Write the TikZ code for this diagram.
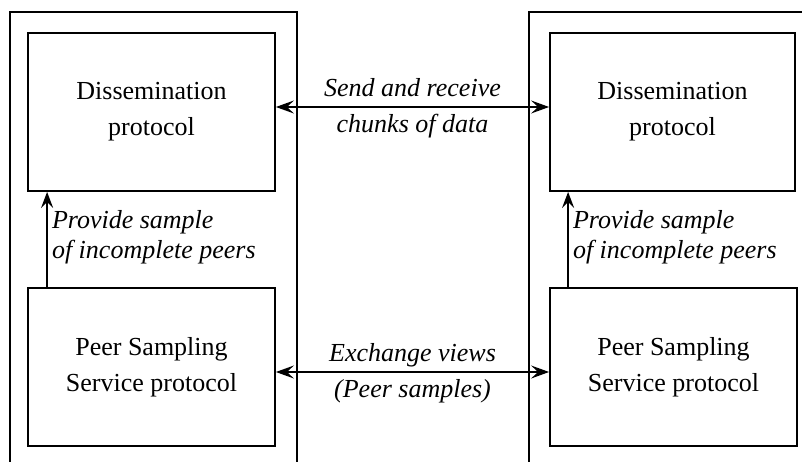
\documentclass[tikz,border=0pt]{standalone}
\usepackage{fontspec}
\setmainfont{Liberation Serif}
\usetikzlibrary{arrows.meta}
\tikzset{
	proto/.style={draw, align=center, inner sep=0pt, font=\fontsize{26}{36}\selectfont},
	msg/.style={inner sep=5pt, text height=20pt, text depth=5pt, font=\fontsize{26}{30}\selectfont\itshape}
}
\begin{document}
\begin{tikzpicture}[x=1pt, y=-1pt, line width=1.8pt, >={Stealth[length=18pt, width=13pt, inset=7pt]}]
%		\draw[help lines] (0,0) grid (802,462);
		\useasboundingbox (0,0) rectangle (802,462);
		\clip (0,0) rectangle (802,462);
		\draw (10,500) rectangle (297,12);
		\draw (529,500) rectangle (840,12);
		\node[proto, minimum width=247, minimum height=158] (ldiss) at (151.5,112) {Dissemination\\protocol};
		\node[proto, minimum width=247, minimum height=158] (lpss) at (151.5,367) {Peer Sampling\\Service protocol};
		\node[proto, minimum width=245, minimum height=158] (rdiss) at (672.5,112) {Dissemination\\protocol};
		\node[proto, minimum width=247, minimum height=158] (rpss) at (673.5,367) {Peer Sampling\\Service protocol};
		\draw[<->] ([yshift=5pt]ldiss.east) -- node [msg, above] {Send and receive} node [msg, below] {chunks of data} ([yshift=5pt]rdiss.west);
		\draw[<->] ([yshift=-5pt]lpss.east) -- node [msg, above] {Exchange views} node [msg, below] {(Peer samples)} ([yshift=-5pt]rpss.west);
		\draw[->, >={Stealth[length=16pt, width=12pt, inset=6pt]}] ([xshift=20pt]lpss.north west) -- node [msg, right, text height=, text depth=, align=left, inner sep=4pt, yshift=2pt] {Provide sample\\of incomplete peers} ([xshift=20pt]lpss.north west |- ldiss.south);
		\draw[->, >={Stealth[length=16pt, width=12pt, inset=6pt]}] ([xshift=19pt]rpss.north west) -- node [msg, right, text height=, text depth=, align=left, inner sep=4pt, yshift=2pt] {Provide sample\\of incomplete peers} ([xshift=19pt]rpss.north west |- rdiss.south);
	\end{tikzpicture}
\end{document}
